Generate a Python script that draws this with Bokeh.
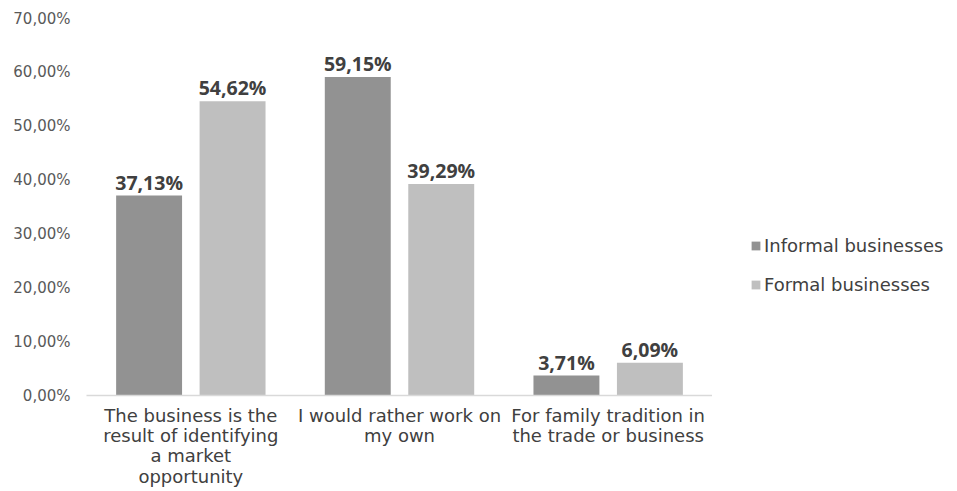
from bokeh.plotting import figure
from bokeh.models import ColumnDataSource, FixedTicker, Range1d, Legend
from bokeh.layouts import row
from bokeh.core.properties import value
from bokeh.embed import file_html
from bokeh.resources import INLINE

categories = [
    "The business is the\nresult of identifying\na market\nopportunity",
    "I would rather work on\nmy own",
    "For family tradition in\nthe trade or business",
]
series_names = ["Informal businesses", "Formal businesses"]
informal = [37.13, 59.15, 3.71]
formal = [54.62, 39.29, 6.09]
y_ticks = [0, 10, 20, 30, 40, 50, 60, 70]
colors = ["#929292", "#bfbfbf"]

def pct(v):
    return ("%.2f%%" % v).replace(".", ",")

idx = list(range(len(categories)))
offset = 0.2
bw = 0.316

p = figure(width=712, height=491, output_backend="svg", toolbar_location=None,
           x_range=Range1d(-0.5, 2.5), y_range=Range1d(0, 70),
           min_border_left=86, min_border_right=0, min_border_top=18,
           min_border_bottom=96)
p.outline_line_color = None
p.background_fill_color = "white"
p.border_fill_color = "white"

for k, (vals, name, col) in enumerate(zip([informal, formal], series_names, colors)):
    xs = [i + (-offset if k == 0 else offset) for i in idx]
    src = ColumnDataSource(dict(x=xs, top=vals, lab=[pct(v) for v in vals]))
    p.vbar(x="x", top="top", width=bw, bottom=0, source=src,
           fill_color=col, line_color=None)
    p.text(x="x", y="top", text="lab", source=src, text_align="center",
           text_baseline="bottom", y_offset=0, text_font=value("Open Sans"),
           text_font_style="bold", text_font_size="19.5px", text_color="#404040")

p.xgrid.grid_line_color = None
p.ygrid.grid_line_color = None

p.xaxis.ticker = FixedTicker(ticks=idx)
p.xaxis.major_label_overrides = {i: c for i, c in zip(idx, categories)}
p.xaxis.major_tick_line_color = None
p.xaxis.minor_tick_line_color = None
p.xaxis.axis_line_color = "#d9d9d9"
p.xaxis.axis_line_width = 1.5
p.xaxis.major_label_text_font = "DejaVu Sans"
p.xaxis.major_label_text_font_size = "18px"
p.xaxis.major_label_text_line_height = 0.97
p.xaxis.major_label_text_color = "#404040"
p.xaxis.major_label_standoff = 3

p.yaxis.ticker = FixedTicker(ticks=y_ticks)
p.yaxis.major_label_overrides = {t: pct(t) for t in y_ticks}
p.yaxis.axis_line_color = None
p.yaxis.major_tick_line_color = None
p.yaxis.minor_tick_line_color = None
p.yaxis.major_label_text_font = "DejaVu Sans"
p.yaxis.major_label_text_font_size = "15px"
p.yaxis.major_label_text_color = "#595959"
p.yaxis.major_label_standoff = 10

# legend panel
q = figure(width=245, height=491, output_backend="svg", toolbar_location=None,
           x_range=Range1d(0, 1), y_range=Range1d(0, 1),
           x_axis_type=None, y_axis_type=None,
           min_border_left=0, min_border_right=0, min_border_top=0,
           min_border_bottom=0)
q.outline_line_color = None
q.xgrid.grid_line_color = None
q.ygrid.grid_line_color = None
items = []
for name, col in zip(series_names, colors):
    r = q.vbar(x=[0], top=[0], bottom=[0], width=0.01, fill_color=col,
               line_color=None)
    items.append((name, [r]))

legend = Legend(items=items, location=(38, 100), orientation="vertical",
                label_text_font="DejaVu Sans", label_text_font_size="18px",
                label_text_color="#404040", glyph_width=11, glyph_height=11,
                label_standoff=3, spacing=18, padding=0, margin=0,
                border_line_color=None, background_fill_alpha=0,
                label_height=20)
q.add_layout(legend)

layout = row(p, q)
open("out.html", "w").write(file_html(layout, INLINE))
